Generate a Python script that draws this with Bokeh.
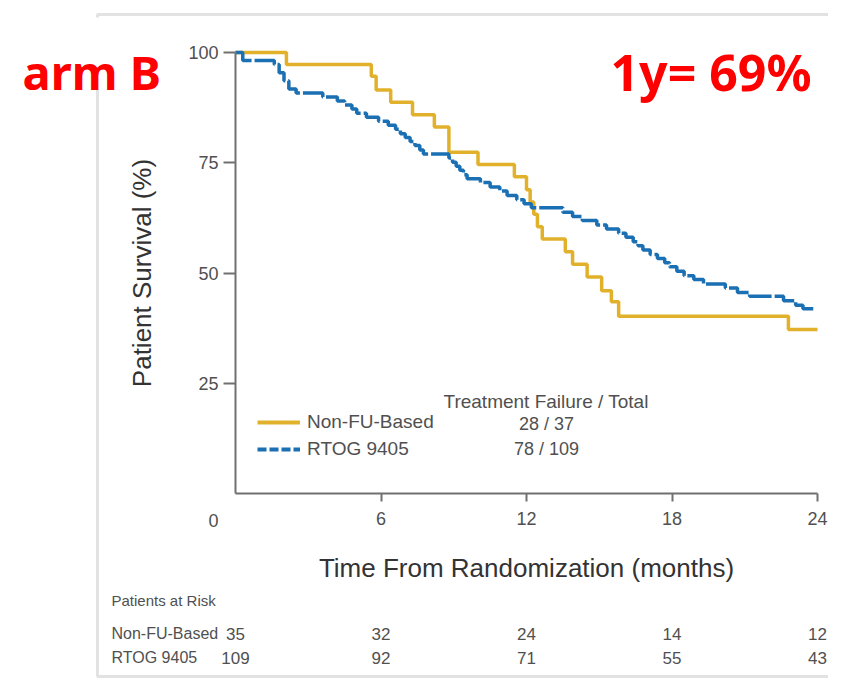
import math
from bokeh.plotting import figure
from bokeh.models import (Range1d, FixedTicker, Label, Legend, LegendItem, BoxAnnotation)
from bokeh.core.properties import value
from bokeh.embed import file_html
from bokeh.resources import INLINE

# ---------------- data ----------------
x_ticks = [6, 12, 18, 24]
y_ticks = [25, 50, 75, 100]

groups = ["Non-FU-Based", "RTOG 9405"]
failures_total = ["28 / 37", "78 / 109"]

nonfu_t = [0, 2.1, 5.6, 5.8, 6.4, 7.3, 8.2, 8.8, 10.0, 11.5, 12.0, 12.15, 12.3, 12.45,
           12.65, 13.6, 13.9, 14.5, 15.1, 15.5, 15.8, 22.8, 24.0]
nonfu_s = [100, 97.3, 94.6, 91.5, 88.7, 85.9, 83.1, 77.4, 74.6, 71.8, 68.9, 66.1, 63.3, 60.5,
           57.7, 54.8, 52.0, 49.1, 46.0, 43.5, 40.2, 37.2, 37.2]

rtog_t = [0, 0.3, 1.6, 1.8, 2.0, 2.2, 2.5, 3.6, 4.2, 4.5, 4.8, 5.0, 5.4, 5.9, 6.3, 6.6,
          6.8, 7.0, 7.2, 7.4, 7.6, 7.75, 8.8, 8.95, 9.1, 9.25, 9.4, 9.55, 10.1, 10.5, 10.9,
          11.2, 11.6, 11.9, 12.2, 13.5, 13.9, 14.3, 14.9, 15.3, 15.8, 16.1, 16.4, 16.6, 16.8,
          17.1, 17.4, 17.7, 17.9, 18.2, 18.5, 18.9, 19.3, 20.2, 20.7, 21.2, 22.6, 23.1, 23.4,
          23.9]
rtog_s = [100, 98.2, 97.3, 95.4, 93.6, 91.7, 90.8, 89.9, 89.0, 88.1, 87.2, 86.2, 85.3, 84.4,
          83.5, 82.6, 81.6, 80.7, 79.8, 78.9, 77.9, 77.0, 76.1, 75.1, 74.2, 73.3, 72.3, 71.4,
          70.5, 69.5, 68.6, 67.6, 66.6, 65.7, 64.8, 63.8, 62.8, 61.9, 60.9, 60.0, 59.0, 58.1,
          57.1, 56.2, 55.2, 54.2, 53.3, 52.3, 51.4, 50.4, 49.4, 48.5, 47.5, 46.6, 45.6, 44.7,
          43.7, 42.7, 41.9, 41.9]

risk_months = [0, 6, 12, 18, 24]
risk_nonfu = [35, 32, 24, 14, 12]
risk_rtog = [109, 92, 71, 55, 43]

# ---------------- styling / layout ----------------
YELLOW = "#E2B12C"
BLUE = "#1B6FB3"
AXIS = "#707070"
TXT = "#505050"
FONT = "Liberation Sans"

W, H = 828, 679
PX0, PX24 = 235, 817          # canvas x of month 0 and month 24
PY0, PY100 = 493, 52          # canvas y of 0 % and 100 %
SX = (PX24 - PX0) / 24.0
SY = (PY0 - PY100) / 100.0

def dx(px):
    return (px - PX0) / SX

def dy(py):
    return (PY0 - py) / SY

p = figure(width=W, height=H, output_backend="svg", toolbar_location=None,
           x_range=Range1d(dx(0), dx(W)), y_range=Range1d(dy(H), dy(0)),
           min_border=0, min_border_left=0, min_border_right=0,
           min_border_top=0, min_border_bottom=0)
p.outline_line_color = None
p.grid.visible = False
p.background_fill_color = "white"
p.border_fill_color = "white"

# axes drawn at fixed data locations inside the frame
for ax in (p.xaxis, p.yaxis):
    ax.fixed_location = 0
    ax.axis_line_color = AXIS
    ax.axis_line_width = 2
    ax.major_tick_line_color = AXIS
    ax.major_tick_line_width = 2
    ax.minor_tick_line_color = None
    ax.major_tick_in = 0
    ax.major_label_text_font = FONT
    ax.major_label_text_font_size = "18px"
    ax.major_label_text_color = TXT
    ax.axis_label_text_font = FONT
    ax.axis_label_text_font_style = "normal"
    ax.axis_label_text_color = "#333333"
    ax.axis_label_text_font_size = "26px"

p.xaxis.bounds = (0, 24)
p.yaxis.bounds = (0, 100)
p.xaxis.ticker = FixedTicker(ticks=x_ticks)
p.yaxis.ticker = FixedTicker(ticks=y_ticks)
p.xaxis.major_tick_out = 8
p.xaxis.major_label_standoff = 10
p.yaxis.major_tick_out = 12
p.yaxis.major_label_standoff = 5
p.xaxis.axis_label = "Time From Randomization (months)"
p.xaxis.axis_label_standoff = 25
p.yaxis.axis_label = "Patient Survival (%)"
p.yaxis.axis_label_standoff = 28

# slide frame (white patch behind the "arm B" note)
p.add_layout(BoxAnnotation(left=dx(97), right=dx(W + 20), top=dy(14), bottom=dy(676),
                           fill_alpha=0, line_color="#a0a0a0", line_width=3, level="underlay"))
p.add_layout(BoxAnnotation(left=dx(0), right=dx(178), top=dy(17), bottom=dy(68),
                           fill_color="white", fill_alpha=1, line_alpha=0, level="underlay"))

# survival curves
p.step(nonfu_t, nonfu_s, mode="after", line_color=YELLOW, line_width=3.5)
p.step(rtog_t, rtog_s, mode="after", line_color=BLUE, line_width=3.5, line_dash="24 3")

# legend (sample-only renderers carry the legend styles)
nan = [math.nan]
r_leg1 = p.line(x=nan, y=nan, line_color=YELLOW, line_width=4)
r_leg2 = p.line(x=nan, y=nan, line_color=BLUE, line_width=4, line_dash="9 3")
legend = Legend(items=[LegendItem(label=groups[0], renderers=[r_leg1]),
                       LegendItem(label=groups[1], renderers=[r_leg2])],
                location=(257, 219), padding=0, margin=0, spacing=5,
                glyph_width=43, glyph_height=18, label_height=18, label_standoff=7,
                label_text_font=FONT, label_text_font_size="19px", label_text_color=TXT,
                background_fill_alpha=0, border_line_color=None)
p.add_layout(legend)

def lab(x, y, text, size, color=TXT, font=FONT, align="left", baseline="middle", style="normal"):
    p.add_layout(Label(x=x, y=y, text=text, text_font=font, text_font_size=size,
                       text_color=color, text_align=align, text_baseline=baseline,
                       text_font_style=style))

lab(dx(443), dy(401), "Treatment Failure / Total", "19px")
p.text(x=[dx(546)] * 2, y=[dy(423), dy(448)], text=failures_total,
       text_font=value(FONT), text_font_size="18px", text_color=TXT,
       text_align="center", text_baseline="middle")

# stray "0" at the axes' corner
lab(dx(213), dy(520), "0", "18px", align="center")

# patients at risk table
lab(dx(111), dy(600), "Patients at Risk", "15px")
lab(dx(111), dy(633), groups[0], "16px")
lab(dx(111), dy(657), groups[1], "16px")
for vals, py in ((risk_nonfu, 633), (risk_rtog, 657)):
    p.text(x=risk_months, y=[dy(py)] * len(vals), text=[str(v) for v in vals],
           text_font=value(FONT), text_font_size="17px", text_color=TXT,
           text_align="center", text_baseline="middle")

# red slide notes
lab(dx(22), dy(71), "arm B", "47px", color="#ff0000", font="Noto Sans",
    baseline="alphabetic", style="bold")
lab(dx(610), dy(71), "1y= 69%", "50px", color="#ff0000", font="Noto Sans",
    baseline="alphabetic", style="bold")

open("out.html", "w").write(file_html(p, INLINE))
